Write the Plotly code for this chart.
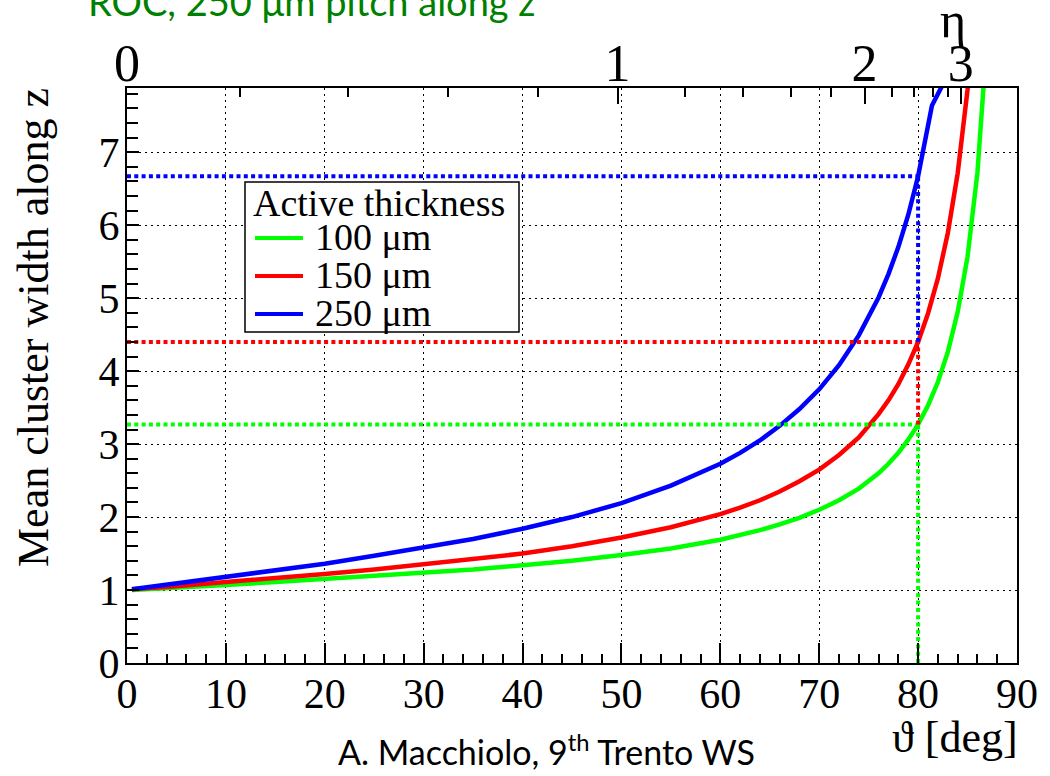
import numpy as np
import plotly.graph_objects as go

# ---------------- data ----------------
theta_deg = [0.5, 5, 10, 15, 20, 25, 30, 35, 40, 45, 50, 55, 60, 62, 64, 66, 68,
             70, 72, 74, 76, 77, 78, 79, 80, 81, 82, 83, 84, 85, 86, 87]
width_100um = [1.00, 1.04, 1.07, 1.11, 1.15, 1.19, 1.23, 1.28, 1.34, 1.40, 1.48, 1.57,
               1.69, 1.75, 1.82, 1.90, 1.99, 2.10, 2.23, 2.39, 2.60, 2.73, 2.88, 3.06,
               3.27, 3.53, 3.85, 4.26, 4.81, 5.57, 6.72, 8.63]
width_150um = [1.01, 1.05, 1.11, 1.16, 1.22, 1.28, 1.35, 1.42, 1.50, 1.60, 1.72, 1.86,
               2.04, 2.13, 2.23, 2.35, 2.49, 2.65, 2.85, 3.09, 3.41, 3.60, 3.82, 4.09,
               4.40, 4.79, 5.27, 5.89, 6.71, 7.86, 9.58, 12.0]
theta_250um = [0.5, 5, 10, 15, 20, 25, 30, 35, 40, 45, 50, 55, 60, 62, 64, 66, 68,
               70, 72, 74, 76, 77, 78, 79, 80, 81, 81.4, 83.0]
width_250um = [1.01, 1.09, 1.18, 1.27, 1.36, 1.47, 1.58, 1.70, 1.84, 2.00, 2.19, 2.43,
               2.73, 2.88, 3.05, 3.25, 3.48, 3.75, 4.08, 4.49, 5.01, 5.33, 5.70, 6.14,
               6.67, 7.31, 7.64, 8.06]

ref_theta = 80
ref_width = [3.27, 4.40, 6.67]          # 100, 150, 250 um at 80 deg

legend_labels = ["100 μm", "150 μm", "250 μm"]
colors = ["#00ff00", "#ff0000", "#0000ff"]

eta_major = [0, 1, 2, 3]
eta_minor = [0.2, 0.4, 0.6, 0.8, 1.2, 1.4, 1.6, 1.8, 2.2, 2.4, 2.6, 2.8]

x_ticks = [0, 10, 20, 30, 40, 50, 60, 70, 80, 90]
y_ticks = [0, 1, 2, 3, 4, 5, 6, 7]

# ---------------- figure ----------------
SERIF = "Liberation Serif"
SANS = "Lato"


def eta_to_theta(eta):
    eta = np.asarray(eta, dtype=float)
    return 90.0 - 2.0 * np.degrees(np.arctan(np.exp(-eta)))


fig = go.Figure()

curves = [(theta_deg, width_100um), (theta_deg, width_150um), (theta_250um, width_250um)]
for (xs, ys), c, lab in zip(curves, colors, legend_labels):
    fig.add_trace(go.Scatter(x=xs, y=ys, mode="lines", name=lab,
                             line=dict(color=c, width=4.5), showlegend=False,
                             hoverinfo="skip"))

# dotted reference lines at 80 deg
DOT = "4px,3.3px"
lower = [0] + ref_width[:-1]
for c, w, lo in zip(colors, ref_width, lower):
    fig.add_trace(go.Scatter(x=[0, ref_theta], y=[w, w], mode="lines",
                             line=dict(color=c, width=4, dash=DOT),
                             showlegend=False, hoverinfo="skip"))
    fig.add_trace(go.Scatter(x=[ref_theta, ref_theta], y=[lo, w], mode="lines",
                             line=dict(color=c, width=4, dash=DOT),
                             showlegend=False, hoverinfo="skip"))

# invisible trace so that the top (eta) axis is drawn
fig.add_trace(go.Scatter(x=[0, 90], y=[0, 0], xaxis="x2", yaxis="y", mode="markers",
                         marker=dict(opacity=0), showlegend=False, hoverinfo="skip"))

axis_common = dict(showline=True, linecolor="black", linewidth=2,
                   tickcolor="black", tickwidth=1.5, zeroline=False)

fig.update_layout(
    width=1050, height=776,
    margin=dict(l=127, r=33, t=88, b=113),
    paper_bgcolor="white", plot_bgcolor="white",
    showlegend=False,
    xaxis=dict(range=[0, 90], tickmode="array", tickvals=x_ticks,
               ticks="inside", ticklen=20, mirror=True, ticklabelstandoff=-7,
               tickfont=dict(family=SERIF, size=42, color="black"),
               showgrid=True, gridcolor="black", gridwidth=1, griddash="2px,4px",
               minor=dict(dtick=2, tick0=0, ticks="inside", ticklen=9,
                          tickcolor="black", tickwidth=1.5, showgrid=False),
               **axis_common),
    yaxis=dict(range=[0, 7.88], tickmode="array", tickvals=y_ticks,
               ticks="inside", ticklen=12, mirror=True, ticklabelstandoff=-3,
               tickfont=dict(family=SERIF, size=42, color="black"),
               showgrid=True, gridcolor="black", gridwidth=1, griddash="2px,4px",
               minor=dict(dtick=0.2, tick0=0, ticks="inside", ticklen=11,
                          tickcolor="black", tickwidth=1.5, showgrid=False),
               **axis_common),
    xaxis2=dict(range=[0, 90], overlaying="x", side="top", anchor="y",
                tickmode="array", tickvals=list(eta_to_theta(eta_major)),
                ticktext=[str(e) for e in eta_major],
                ticks="inside", ticklen=16, showgrid=False, ticklabelstandoff=-16,
                tickfont=dict(family=SERIF, size=52, color="black"),
                minor=dict(tickmode="array", tickvals=list(eta_to_theta(eta_minor)),
                           ticks="inside", ticklen=9, tickcolor="black",
                           tickwidth=1.5, showgrid=False),
                **axis_common),
)

# ---------------- legend (box, samples, text) ----------------
PX0, PX1, PY0, PY1 = 127.0, 1017.0, 663.0, 88.0


def px(x):
    return (x - PX0) / (PX1 - PX0)


def py(y):
    return (PY0 - y) / (PY0 - PY1)


fig.add_shape(type="rect", xref="paper", yref="paper",
              x0=px(245), x1=px(519), y0=py(332), y1=py(182),
              fillcolor="white", line=dict(color="black", width=1.5), layer="above")
entry_y = [237, 275, 313]
for c, lab, ey in zip(colors, legend_labels, entry_y):
    fig.add_shape(type="line", xref="paper", yref="paper",
                  x0=px(255), x1=px(303), y0=py(ey + 1), y1=py(ey + 1),
                  line=dict(color=c, width=4), layer="above")
    fig.add_annotation(x=px(313), y=py(ey), xref="paper", yref="paper",
                       text=lab, showarrow=False, xanchor="left", yanchor="middle",
                       font=dict(family=SERIF, size=38, color="black"))
fig.add_annotation(x=px(251), y=py(203), xref="paper", yref="paper",
                   text="Active thickness", showarrow=False, xanchor="left",
                   yanchor="middle", font=dict(family=SERIF, size=38, color="black"))

# ---------------- axis titles and other texts ----------------
fig.add_annotation(x=px(33), y=py(328), xref="paper", yref="paper",
                   text="Mean cluster width along z", textangle=-90, showarrow=False,
                   xanchor="center", yanchor="middle",
                   font=dict(family=SERIF, size=44, color="black"))
fig.add_annotation(x=px(1020), y=py(737), xref="paper", yref="paper",
                   text="ϑ [deg]", showarrow=False, xanchor="right", yanchor="middle",
                   font=dict(family=SERIF, size=44, color="black"))
fig.add_annotation(x=px(953), y=py(20), xref="paper", yref="paper",
                   text="η", showarrow=False, xanchor="center", yanchor="middle",
                   font=dict(family=SERIF, size=50, color="black"))
fig.add_annotation(x=px(86), y=py(0.5), xref="paper", yref="paper",
                   text="ROC, 250 μm pitch along z", showarrow=False,
                   xanchor="left", yanchor="middle",
                   font=dict(family=SANS, size=38, color="#008000"))
fig.add_annotation(x=px(546), y=py(750), xref="paper", yref="paper",
                   text="A. Macchiolo, 9<sup>th</sup> Trento WS", showarrow=False,
                   xanchor="center", yanchor="middle",
                   font=dict(family=SANS, size=34, color="black"))

fig.write_html("out.html")
